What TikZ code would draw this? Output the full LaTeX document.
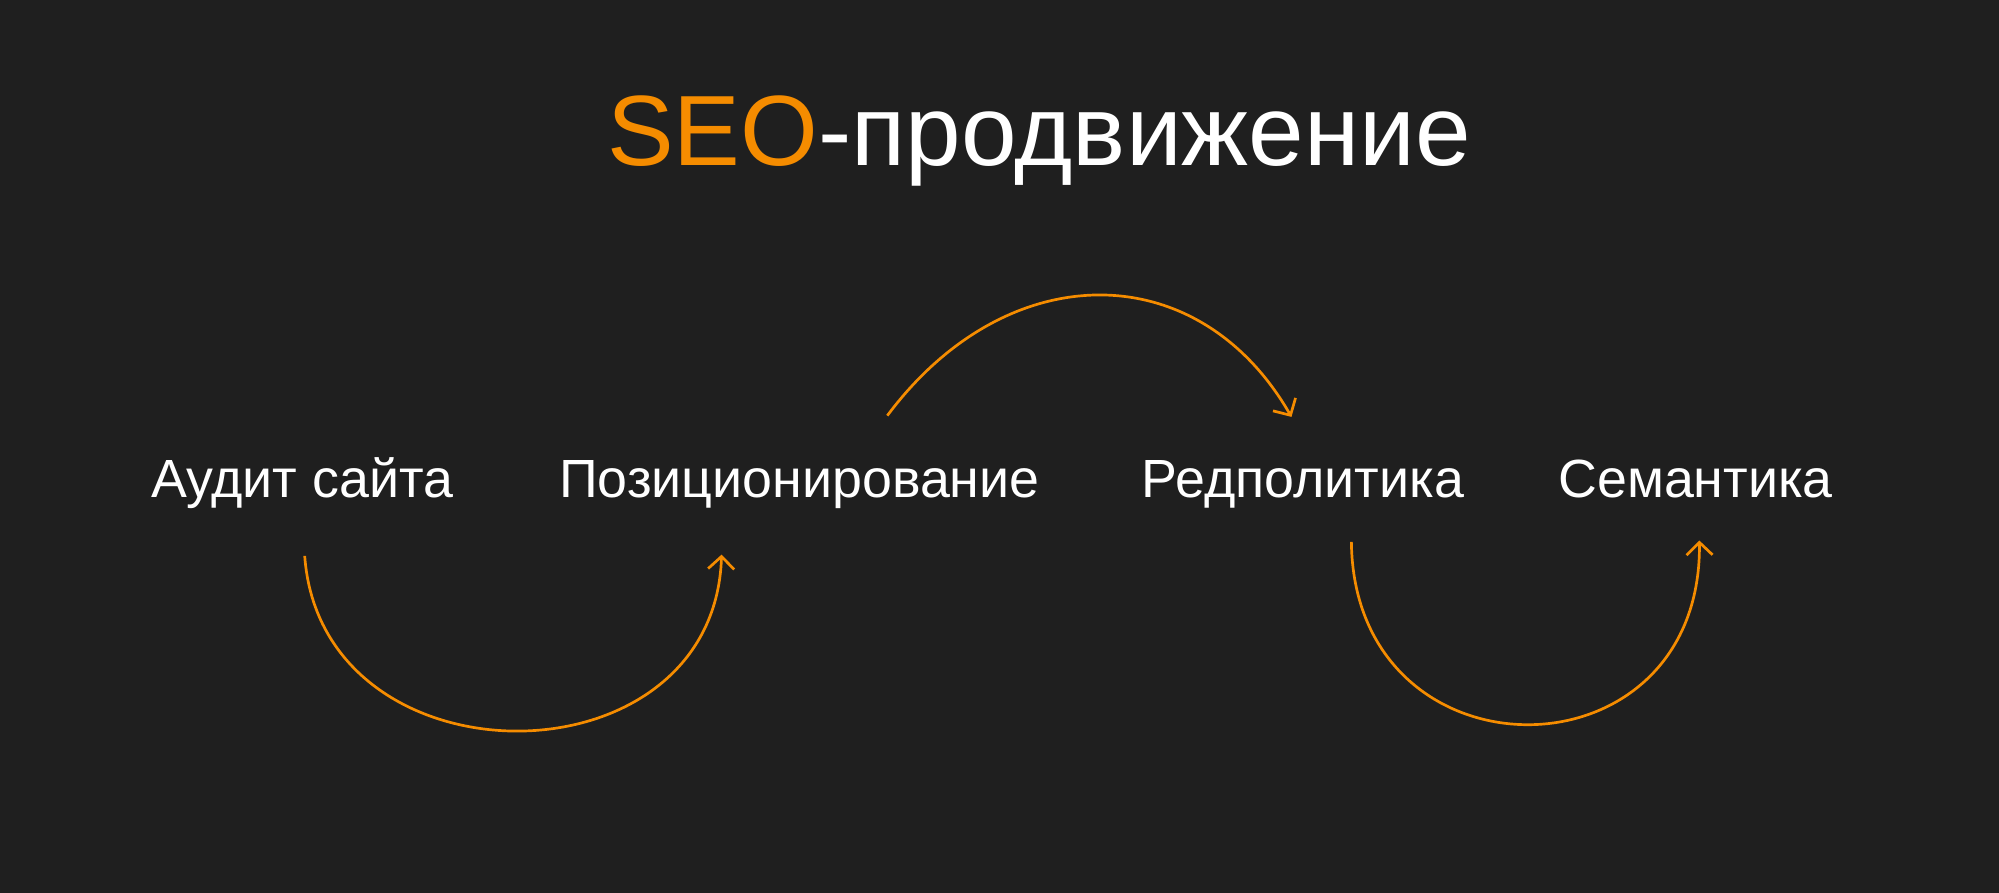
\documentclass[tikz,border=0pt]{standalone}
\usepackage{fontspec}
\setmainfont{Liberation Sans}
\usetikzlibrary{arrows.meta}
\definecolor{bg}{RGB}{31,31,31}
\definecolor{seo}{RGB}{245,140,0}
\tikzset{
  label/.style={anchor=base, text=white, font=\fontsize{12}{14}\selectfont},
  arc/.style={draw=seo, line width=0.6pt, -{Straight Barb[length=2.8pt,width=5.8pt]}}
}
\begin{document}
\begin{tikzpicture}
      \useasboundingbox (0,0) rectangle (15.68,7.00);
      \fill [bg] (-0.2,-0.2) rectangle (15.88,7.20);
      \node (title) [anchor=base, text=white, font=\fontsize{22.3}{26}\selectfont] at (8.15,5.70) {\textcolor{seo}{SEO}-продвижение};
      \node (audit) [label] at (2.37,3.10) {Аудит сайта};
      \node (pos) [label] at (6.27,3.10) {Позиционирование};
      \node (red) [label] at (10.22,3.10) {Редполитика};
      \node (sem) [label] at (13.30,3.10) {Семантика};
      \draw [arc] ([shift={(0.02,-0.46)}]audit.base) .. controls +(0.13,-1.83) and +(-0.06,-1.84) .. ([shift={(-0.61,-0.45)}]pos.base);
      \draw [arc] ([shift={(0.69,0.64)}]pos.base) .. controls +(0.94,1.26) and +(-0.73,1.27) .. ([shift={(-0.09,0.63)}]red.base);
      \draw [arc] ([shift={(0.38,-0.35)}]red.base) .. controls +(0.02,-1.91) and +(0.02,-1.92) .. ([shift={(0.03,-0.34)}]sem.base);
    \end{tikzpicture}
\end{document}
